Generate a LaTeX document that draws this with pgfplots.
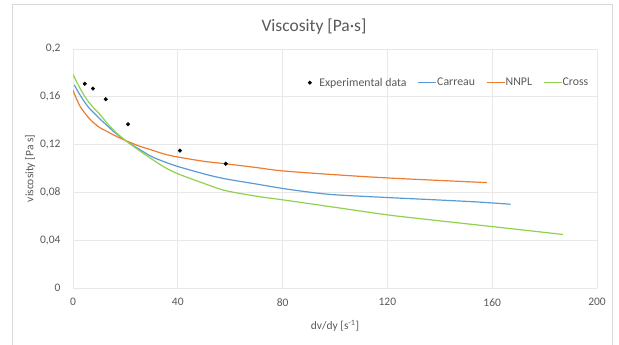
\documentclass[border=0pt]{standalone}
\usepackage{pgfplots}
\pgfplotsset{compat=1.18}
\usepackage{fontspec}
\setmainfont{Carlito}
\definecolor{txt}{HTML}{595959}
\definecolor{gridc}{HTML}{E8E8E8}
\definecolor{framec}{HTML}{D9D9D9}
\definecolor{cblue}{HTML}{5B9BD5}
\definecolor{corange}{HTML}{ED7D31}
\definecolor{cgreen}{HTML}{92D050}
\pgfplotsset{
  shortline/.style={legend image code/.code={\draw[##1] (0bp,0bp) -- (18bp,0bp);}},
  dotleg/.style={legend image code/.code={\path[draw=none,fill=none] (-2bp,0bp) rectangle (9bp,0.1bp);\draw[##1] plot coordinates {(0bp,0bp)};}},
}
\begin{document}
\begin{tikzpicture}[x=1bp,y=1bp]
\useasboundingbox (0,0) rectangle (619,344);
\draw[framec,line width=0.8bp] (12,-2) -- (12,340) -- (612,340) -- (612,-2);
\node[txt,font=\fontsize{17.5bp}{20bp}\selectfont,anchor=base] at (314,312.5) {Viscosity [Pa·s]};
\begin{axis}[
  at={(73bp,56bp)}, anchor=south west,
  scale only axis, width=524bp, height=239bp,
  xmin=0, xmax=200, ymin=0, ymax=0.2,
  xtick={0,40,...,200}, ytick={0,0.04,0.08,0.12,0.16,0.2},
  grid=major, major grid style={gridc,line width=0.75bp},
  axis line style={draw=none}, tick style={draw=none},
  /pgf/number format/assume math mode=true,
  /pgf/number format/use comma,
  /pgf/number format/fixed,
  /pgf/number format/precision=2,
  ticklabel style={font=\fontsize{11.5bp}{13bp}\selectfont, text=txt},
  xticklabel style={yshift=-7bp},
  yticklabel style={xshift=-9bp},
  xlabel={dv/dy [s\textsuperscript{-1}]},
  ylabel={viscosity [Pa s]},
  label style={font=\fontsize{11.5bp}{13bp}\selectfont, text=txt},
  xlabel style={at={(axis description cs:0.5,0)}, anchor=center, yshift=-38bp},
  ylabel style={at={(axis description cs:-0.082,0.5)}, anchor=center},
  legend style={at={(0.9905,0.859)}, anchor=east, draw=none, fill=none,
    legend columns=-1, font=\fontsize{11.8bp}{13bp}\selectfont, text=txt,
    nodes={inner xsep=0.5bp},
    /tikz/every even column/.append style={column sep=10.5bp}},
  shortline,
]
\addplot[only marks, mark=*, mark size=1.8bp, black, dotleg]
  coordinates {(4.5,0.1709) (7.6,0.1669) (12.5,0.158) (21,0.137) (40.8,0.115) (58.3,0.104)};
\addlegendentry{Experimental data}
\addplot[cblue, line width=1.2bp, smooth] coordinates {
(0.5,0.170) (2,0.164) (4,0.157) (6,0.151) (8,0.1465) (10,0.142) (13,0.136) (16,0.130) (20,0.1235)
(25,0.1165) (30,0.110) (35,0.1055) (40,0.1017) (50,0.0955) (58,0.0914) (70,0.087) (80,0.0833)
(90,0.0803) (100,0.0780) (120,0.0757) (140,0.0736) (155,0.0719) (167,0.0701)};
\addlegendentry{Carreau}
\addplot[corange, line width=1.2bp, smooth] coordinates {
(0,0.1655) (1,0.160) (2,0.155) (3,0.151) (5,0.145) (7,0.140) (10,0.1345) (13,0.131) (16,0.1275)
(20,0.1235) (25,0.119) (30,0.1155) (35,0.112) (40,0.1096) (50,0.106) (58,0.104) (70,0.1008)
(80,0.098) (100,0.0948) (120,0.0921) (140,0.0900) (158,0.0882)};
\addlegendentry{NNPL}
\addplot[cgreen, line width=1.2bp, smooth] coordinates {
(0,0.1786) (2,0.170) (4,0.162) (6,0.1555) (8,0.1505) (10,0.146) (13,0.138) (16,0.131) (20,0.1235)
(25,0.1155) (30,0.108) (35,0.101) (40,0.0956) (50,0.0875) (58,0.0816) (70,0.0768) (80,0.0738)
(100,0.0675) (120,0.0612) (140,0.0562) (160,0.0514) (187,0.0448)};
\addlegendentry{Cross}
\end{axis}
\end{tikzpicture}
\end{document}
